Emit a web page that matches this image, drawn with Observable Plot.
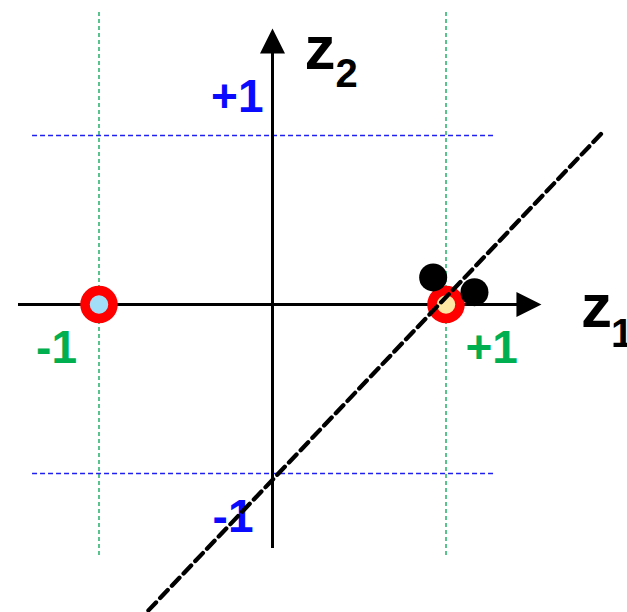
<!DOCTYPE html>
<html>
<head>
<meta charset="utf-8">
<script src="https://cdn.jsdelivr.net/npm/d3@7"></script>
<script src="https://cdn.jsdelivr.net/npm/@observablehq/plot@0.6"></script>
<style>
  html, body { margin: 0; padding: 0; background: #fff; }
</style>
</head>
<body>
<div id="chart"></div>
<script>
// Feature space (z1, z2): two labelled points, a separating line and two extra points.
const gridZ1 = [-1, 1];            // green guides
const gridZ2 = [-1, 1];            // blue guides
const z1TickLabels = ["-1", "+1"];
const z2TickLabels = ["-1", "+1"];

const ringZ1 = [-1, 1];
const ringZ2 = [0, 0];
const ringFill = ["#a3def8", "#fde5a2"];

const extraZ1 = [0.926, 1.164];
const extraZ2 = [0.16, 0.073];

const lineZ1 = [-0.715, 1.902];
const lineZ2 = [-1.81, 1.018];

// axis extents (ends at the arrowhead centres)
const axisZ1 = [-1.464, 1.478];
const axisZ2 = [-1.444, 1.559];
const axisNames = ["z", "z"];
const axisSubs = ["1", "2"];

const FONT = "'Liberation Sans', Arial, Helvetica, sans-serif";

// filled triangular arrowhead, tip pointing up before rotation
const arrowHead = {
  draw(ctx, size) {
    const h = Math.sqrt(size / Math.PI);
    ctx.moveTo(0, -h);
    ctx.lineTo(h, h);
    ctx.lineTo(-h, h);
    ctx.closePath();
  }
};

const idx = [0, 1];

const chart = Plot.plot({
  width: 627,
  height: 612,
  margin: 0,
  style: { background: "#fff", fontFamily: FONT },
  x: { domain: [-1, 1], range: [98.5, 445.5], axis: null },
  y: { domain: [-1, 1], range: [473, 135], axis: null },
  marks: [
    // dashed guides
    Plot.ruleX(gridZ1, { y1: -1.485, y2: 1.74, stroke: "#00a651", strokeWidth: 1.3, strokeDasharray: "4,3" }),
    Plot.ruleY(gridZ2, { x1: -1.383, x2: 1.274, stroke: "#2020ee", strokeWidth: 1.3, strokeDasharray: "5,3" }),
    // axes
    Plot.ruleY([0], { x1: axisZ1[0], x2: axisZ1[1], stroke: "#000", strokeWidth: 3 }),
    Plot.ruleX([0], { y1: axisZ2[0], y2: axisZ2[1], stroke: "#000", strokeWidth: 3 }),
    Plot.dot([0], { x: axisZ1[1], y: 0, r: 12.5, symbol: arrowHead, fill: "#000", stroke: null, rotate: 90 }),
    Plot.dot([0], { x: 0, y: axisZ2[1], r: 12.5, symbol: arrowHead, fill: "#000", stroke: null }),
    // axis names with subscripts
    Plot.text([0], { x: axisZ1[1], y: 0, text: () => axisNames[0], fontSize: 62, fontWeight: "bold", fill: "#000", textAnchor: "start", lineAnchor: "bottom", dx: 52, dy: 22 }),
    Plot.text([0], { x: axisZ1[1], y: 0, text: () => axisSubs[0], fontSize: 40, fontWeight: "bold", fill: "#000", textAnchor: "start", lineAnchor: "bottom", dx: 82, dy: 42 }),
    Plot.text([0], { x: 0, y: axisZ2[1], text: () => axisNames[1], fontSize: 62, fontWeight: "bold", fill: "#000", textAnchor: "start", lineAnchor: "bottom", dx: 32, dy: 27.5 }),
    Plot.text([0], { x: 0, y: axisZ2[1], text: () => axisSubs[1], fontSize: 40, fontWeight: "bold", fill: "#000", textAnchor: "start", lineAnchor: "bottom", dx: 63, dy: 45.5 }),
    // tick labels
    Plot.text([0], { x: gridZ1[0], y: 0, text: () => z1TickLabels[0], fontSize: 46, fontWeight: "bold", fill: "#00b050", textAnchor: "end", lineAnchor: "bottom", dx: -22, dy: 58 }),
    Plot.text([0], { x: gridZ1[1], y: 0, text: () => z1TickLabels[1], fontSize: 46, fontWeight: "bold", fill: "#00b050", textAnchor: "start", lineAnchor: "bottom", dx: 19.5, dy: 58 }),
    Plot.text([0], { x: 0, y: gridZ2[0], text: () => z2TickLabels[0], fontSize: 46, fontWeight: "bold", fill: "#0a0aff", textAnchor: "end", lineAnchor: "bottom", dx: -19, dy: 58 }),
    Plot.text([0], { x: 0, y: gridZ2[1], text: () => z2TickLabels[1], fontSize: 46, fontWeight: "bold", fill: "#0a0aff", textAnchor: "end", lineAnchor: "bottom", dx: -9, dy: -24 }),
    // labelled points
    Plot.dot(idx, { x: i => ringZ1[i], y: i => ringZ2[i], r: 14, fill: i => ringFill[i], stroke: "#ff0000", strokeWidth: 9.5 }),
    // separating line
    Plot.line(idx, { x: i => lineZ1[i], y: i => lineZ2[i], stroke: "#000", strokeWidth: 4.3, strokeDasharray: "11,6" }),
    // extra points
    Plot.dot(idx, { x: i => extraZ1[i], y: i => extraZ2[i], r: 14, fill: "#000", stroke: null })
  ]
});

document.getElementById("chart").appendChild(chart);
</script>
</body>
</html>
